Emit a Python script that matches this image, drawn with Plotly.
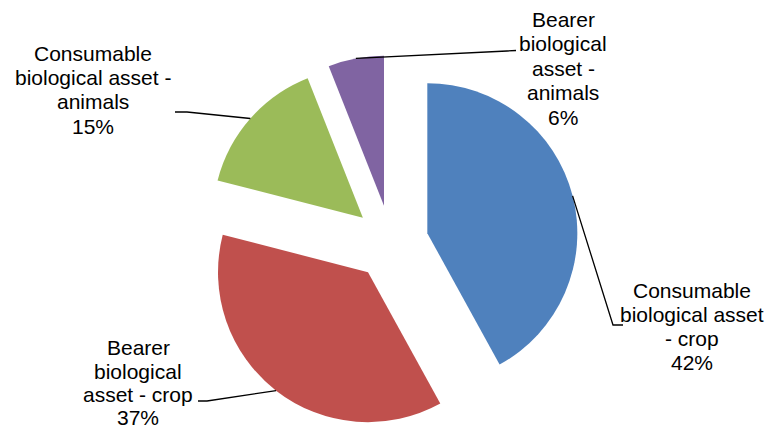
import math
import plotly.graph_objects as go

# ---- data -------------------------------------------------------------
categories = [
    "Consumable biological asset - crop",
    "Bearer biological asset - crop",
    "Consumable biological asset - animals",
    "Bearer biological asset - animals",
]
shares = [42, 37, 15, 6]
colors = ["#4F81BD", "#C0504D", "#9BBB59", "#8064A2"]

# wrapped label text for each slice (percentage line is appended from shares)
label_lines = [
    ["Consumable", "biological asset", "- crop"],
    ["Bearer", "biological", "asset - crop"],
    ["Consumable", "biological asset -", "animals"],
    ["Bearer", "biological", "asset -", "animals"],
]

# ---- geometry (pixels) ------------------------------------------------
W, H = 768, 430
PULL = 0.25          # every slice exploded by a quarter radius
R = 150              # slice radius
CX, CY = 391, 242.5  # pie centre
FONT_SIZE = 21

# label placement: centre x, first baseline, line step, leader elbow, leader end
label_layout = [
    dict(x=692, y0=298.0, step=24.0, elbow=(613, 325), end=(623, 325)),
    dict(x=138, y0=355.0, step=23.4, elbow=(207, 401), end=(198, 401)),
    dict(x=93, y0=60.5, step=24.3, elbow=(187, 112), end=(175, 112)),
    dict(x=563, y0=26.5, step=24.5, elbow=(507, 51), end=(516, 50.5)),
]


def px(x, y):
    """pixel position -> paper coordinates"""
    return x / W, 1 - y / H


outer = R * (1 + PULL)
dom_x = [(CX - outer) / W, (CX + outer) / W]
dom_y = [(H - (CY + outer)) / H, (H - (CY - outer)) / H]

fig = go.Figure(
    go.Pie(
        labels=categories,
        values=shares,
        sort=False,
        direction="clockwise",
        rotation=0,
        pull=PULL,
        textinfo="none",
        hoverinfo="label+percent",
        marker=dict(colors=colors, line=dict(width=0)),
        domain=dict(x=dom_x, y=dom_y),
    )
)

total = sum(shares)
annotations = []
shapes = []
cum = 0
for value, lines, lay in zip(shares, label_lines, label_layout):
    mid = (cum + value / 2) / total * 2 * math.pi
    cum += value
    # point on the exploded slice's arc at its bisector
    sx = CX + outer * math.sin(mid)
    sy = CY - outer * math.cos(mid)
    ex, ey = lay["elbow"]
    tx, ty = lay["end"]
    p0, p1, p2 = px(sx, sy), px(ex, ey), px(tx, ty)
    shapes.append(
        dict(
            type="path",
            xref="paper",
            yref="paper",
            path=f"M {p0[0]} {p0[1]} L {p1[0]} {p1[1]} L {p2[0]} {p2[1]}",
            line=dict(color="black", width=1.3),
        )
    )
    text_lines = lines + [f"{value}%"]
    for i, t in enumerate(text_lines):
        baseline = lay["y0"] + i * lay["step"]
        ax, ay = px(lay["x"], baseline - 0.3465 * FONT_SIZE)
        annotations.append(
            dict(
                x=ax,
                y=ay,
                xref="paper",
                yref="paper",
                text=t,
                showarrow=False,
                xanchor="center",
                yanchor="middle",
                borderpad=0,
                font=dict(family="Liberation Sans, Arial, sans-serif", size=FONT_SIZE, color="black"),
            )
        )

fig.update_layout(
    width=W,
    height=H,
    margin=dict(l=0, r=0, t=0, b=0),
    showlegend=False,
    paper_bgcolor="white",
    plot_bgcolor="white",
    annotations=annotations,
    shapes=shapes,
)

fig.write_html("out.html")
